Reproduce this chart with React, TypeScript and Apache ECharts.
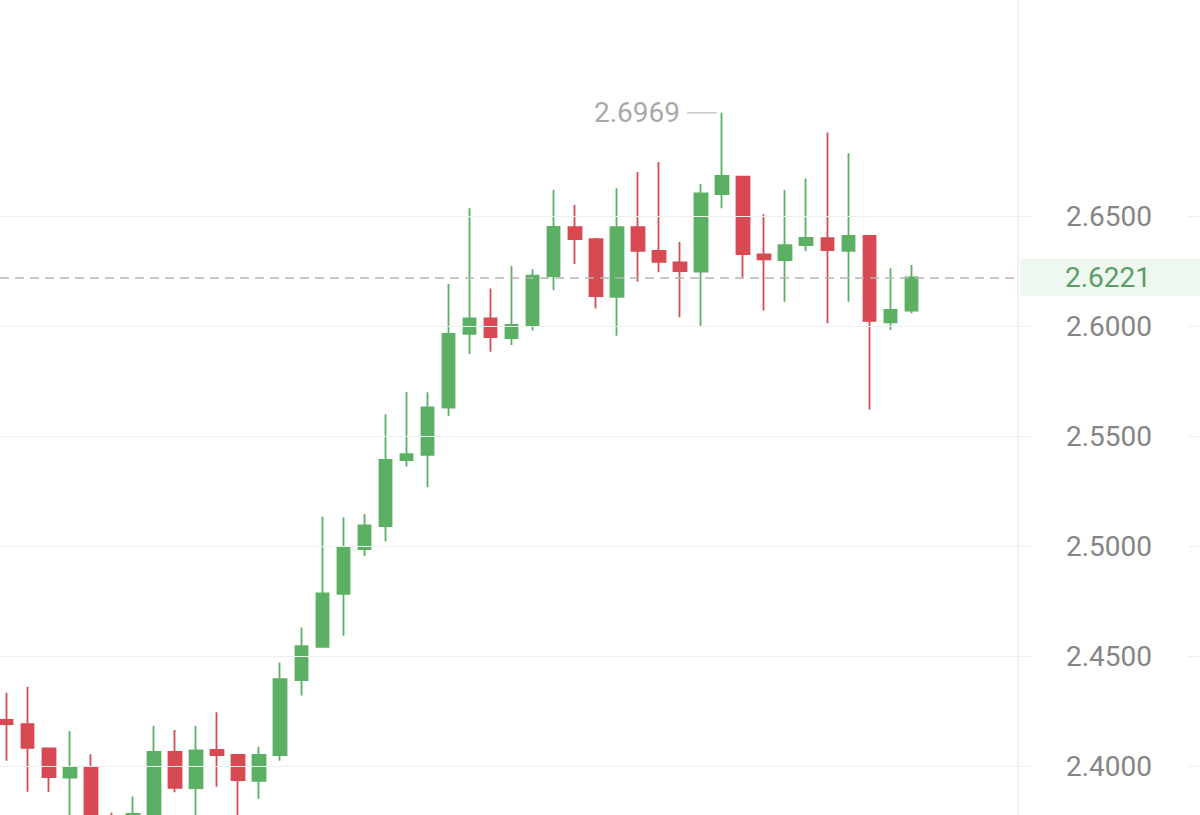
import React, { useEffect, useRef } from "react";
import * as echarts from "echarts";

// Candle index positions (one per trading period)
const opens = [
  2.4209, 2.419, 2.408, 2.3947, 2.3993, 2.372, 2.37, 2.373, 2.4064, 2.3899,
  2.4073, 2.405, 2.3933, 2.4049, 2.4391, 2.4542, 2.4783, 2.4986, 2.5091, 2.539,
  2.5414, 2.5629, 2.5964, 2.6035, 2.5945, 2.6001, 2.6227, 2.6449, 2.6395, 2.6133,
  2.6449, 2.6341, 2.6289, 2.6247, 2.66, 2.6679, 2.6326, 2.63, 2.6368, 2.6399,
  2.6342, 2.641, 2.6017, 2.607,
];
const closes = [
  2.4191, 2.4083, 2.3949, 2.3994, 2.372, 2.368, 2.3782, 2.4064, 2.3901, 2.4071,
  2.405, 2.3936, 2.405, 2.4395, 2.4545, 2.4785, 2.4991, 2.5094, 2.5391, 2.5417,
  2.563, 2.5964, 2.6035, 2.5949, 2.6005, 2.6229, 2.6451, 2.6395, 2.6136, 2.6449,
  2.6342, 2.6292, 2.625, 2.6603, 2.6682, 2.6327, 2.6303, 2.6368, 2.6401, 2.6345,
  2.641, 2.6023, 2.6073, 2.6221,
];
const lows = [
  2.4024, 2.3883, 2.3882, 2.372, 2.365, 2.362, 2.366, 2.369, 2.3881, 2.377,
  2.3906, 2.3775, 2.385, 2.4024, 2.432, 2.454, 2.4592, 2.4955, 2.502, 2.5361,
  2.5267, 2.5591, 2.5873, 2.5883, 2.5914, 2.5979, 2.6164, 2.6282, 2.608, 2.5956,
  2.6201, 2.6244, 2.604, 2.6001, 2.6535, 2.6221, 2.607, 2.611, 2.6341, 2.6012,
  2.611, 2.5621, 2.5982, 2.6058,
];
const highs = [
  2.4333, 2.436, 2.408, 2.4159, 2.4053, 2.3788, 2.3861, 2.4182, 2.4164, 2.4182,
  2.4244, 2.405, 2.4088, 2.4471, 2.4629, 2.5133, 2.5129, 2.5145, 2.5599, 2.57,
  2.5699, 2.6191, 2.6535, 2.617, 2.6273, 2.6258, 2.6618, 2.655, 2.64, 2.6626,
  2.67, 2.6745, 2.6382, 2.6645, 2.6969, 2.6679, 2.6508, 2.6618, 2.6671, 2.6879,
  2.6785, 2.641, 2.6262, 2.6277,
];
const lastPrice = 2.6221;

const GREEN = "#5bb064";
const RED = "#d84a53";

export default function App() {
  const ref = useRef<HTMLDivElement>(null);

  useEffect(() => {
    if (!ref.current) return;
    const chart = echarts.init(ref.current, null, { renderer: "svg" });

    const data = opens.map((o, i) => [i, o, closes[i], lows[i], highs[i]]);
    const maxHigh = Math.max(...highs);
    const maxIdx = highs.indexOf(maxHigh);

    const slot = 21.04;
    const xMin = -6.7 / slot;
    const xMax = xMin + 1200 / slot;

    const gridColors = [
      "#efefef", "#efefef", "#efefef", "#efefef", "#efefef", "#efefef", "#efefef",
      "rgba(0,0,0,0)", "rgba(0,0,0,0)",
    ];

    chart.setOption({
      animation: false,
      backgroundColor: "#ffffff",
      textStyle: { fontFamily: "Roboto" },
      grid: {
        left: 0,
        top: -4,
        width: 1200,
        height: 880,
        containLabel: false,
        outerBoundsMode: "none",
      },
      xAxis: {
        type: "value",
        min: xMin,
        max: xMax,
        show: false,
        splitLine: { show: false },
      },
      yAxis: {
        type: "value",
        position: "right",
        min: 2.35,
        max: 2.75,
        interval: 0.05,
        axisLine: { show: false },
        axisTick: { show: false },
        splitLine: {
          show: true,
          lineStyle: { color: gridColors, width: 1 },
        },
        axisLabel: {
          inside: true,
          margin: 12,
          fontSize: 28,
          fontFamily: "Roboto",
          color: "#858585",
          backgroundColor: "#ffffff",
          padding: [3, 36, 3, 34],
          formatter: (v: number) => (v > 2.66 || v < 2.38 ? "" : v.toFixed(4)),
        },
        z: 5,
      },
      graphic: [
        {
          type: "line",
          shape: { x1: 1018, y1: 0, x2: 1018, y2: 815 },
          style: { stroke: "#f1f1f1", lineWidth: 2 },
          z: 1,
        },
      ],
      series: [
        {
          type: "candlestick",
          dimensions: ["idx", "open", "close", "lowest", "highest"],
          encode: { x: "idx", y: ["open", "close", "lowest", "highest"] },
          data,
          barWidth: 13,
          clip: false,
          itemStyle: {
            color: GREEN,
            color0: RED,
            borderColor: GREEN,
            borderColor0: RED,
            borderWidth: 1.8,
          },
          markLine: {
            silent: true,
            symbol: ["none", "none"],
            lineStyle: { color: "#b5b5b5", type: [9, 6], width: 1.5 },
            label: {
              show: true,
              position: "end",
              distance: 5,
              fontSize: 28,
              fontFamily: "Roboto",
              color: "#5a9e64",
              backgroundColor: "#eef8f0",
              padding: [5, 50, 4, 45],
              formatter: () => lastPrice.toFixed(4),
            },
            data: [[{ x: 0, yAxis: lastPrice }, { x: 1015, yAxis: lastPrice }]],
          },
          markPoint: {
            silent: true,
            symbol: "rect",
            symbolSize: [30, 1.5],
            symbolOffset: [-20, 0],
            itemStyle: { color: "#c6c6c6" },
            label: {
              show: true,
              position: "left",
              distance: 7,
              fontSize: 28,
              fontFamily: "Roboto",
              color: "#a9a9a9",
              formatter: (p: any) => Number(p.value).toFixed(4),
            },
            data: [{ coord: [maxIdx, maxHigh], value: maxHigh }],
          },
        },
      ],
    });

    return () => chart.dispose();
  }, []);

  return (
    <div
      ref={ref}
      style={{ position: "fixed", left: 0, top: 0, width: 1200, height: 815 }}
    />
  );
}
